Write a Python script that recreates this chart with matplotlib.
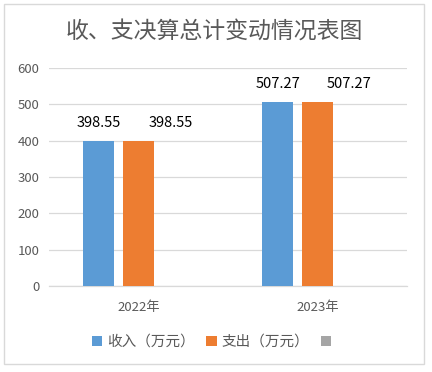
import numpy as np
import matplotlib
matplotlib.use("Agg")
import matplotlib.pyplot as plt
from matplotlib.patches import Rectangle, Patch

plt.rcParams['font.family'] = ['Noto Sans CJK SC', 'DejaVu Sans']

title = "收、支决算总计变动情况表图"
categories = ["2022年", "2023年"]
series_names = ["收入（万元）", "支出（万元）", ""]
income = [398.55, 507.27]
expense = [398.55, 507.27]
third = [np.nan, np.nan]
yticks = [0, 100, 200, 300, 400, 500, 600]

colors = ["#5B9BD5", "#ED7D31", "#A5A5A5"]

fig = plt.figure(figsize=(4.32, 3.72), dpi=100)
ax = fig.add_axes([49/432, 1-286/372, (407-49)/432, (286-68)/372])

x = np.arange(len(categories))
w = 0.173
off = 0.222
series = [income, expense, third]
label_shift = [0, 23, 0]  # points; Excel moved overlapping labels
handles = []
for i, (vals, name, c) in enumerate(zip(series, series_names, colors)):
    pos = x + (i - 1) * off
    ax.bar(pos, vals, width=w, color=c, linewidth=0, zorder=3)
    handles.append(Patch(facecolor=c, edgecolor='none', label=name))
    if i < 2:
        for p, v in zip(pos, vals):
            ax.annotate(f"{v:.2f}", xy=(p, v), xytext=(label_shift[i], 13),
                        textcoords='offset points', ha='center', va='center',
                        fontsize=10.5, color='#000000')

ax.set_xlim(-0.5, 1.5)
ax.set_ylim(0, 600)
ax.set_yticks(yticks)
ax.set_yticklabels([str(t) for t in yticks], fontsize=9.5, color='#595959')
ax.set_xticks(x)
ax.set_xticklabels(categories, fontsize=9.5, color='#595959')
ax.tick_params(axis='both', length=0)
ax.tick_params(axis='y', pad=7)
ax.tick_params(axis='x', pad=11)
ax.grid(axis='y', color='#D9D9D9', linewidth=0.9, zorder=0)
for s in ['top', 'right', 'left']:
    ax.spines[s].set_visible(False)
ax.spines['bottom'].set_color('#D9D9D9')
ax.spines['bottom'].set_linewidth(0.9)

fig.text(214/432, 1-31/372, title, ha='center', va='center',
         fontsize=16.5, color='#595959')

fig.legend(handles=handles, labels=series_names, loc='center',
           bbox_to_anchor=(214/432, 1-342/372), ncol=3, frameon=False,
           fontsize=10.5, handlelength=0.7, handleheight=0.7,
           handletextpad=0.35, columnspacing=0.8, labelcolor='#595959')

fig.add_artist(Rectangle((4/432, 1-364/372), 420/432, 360/372,
                         transform=fig.transFigure, fill=False,
                         edgecolor='#D9D9D9', linewidth=1))

fig.savefig("out.png", dpi=100)
